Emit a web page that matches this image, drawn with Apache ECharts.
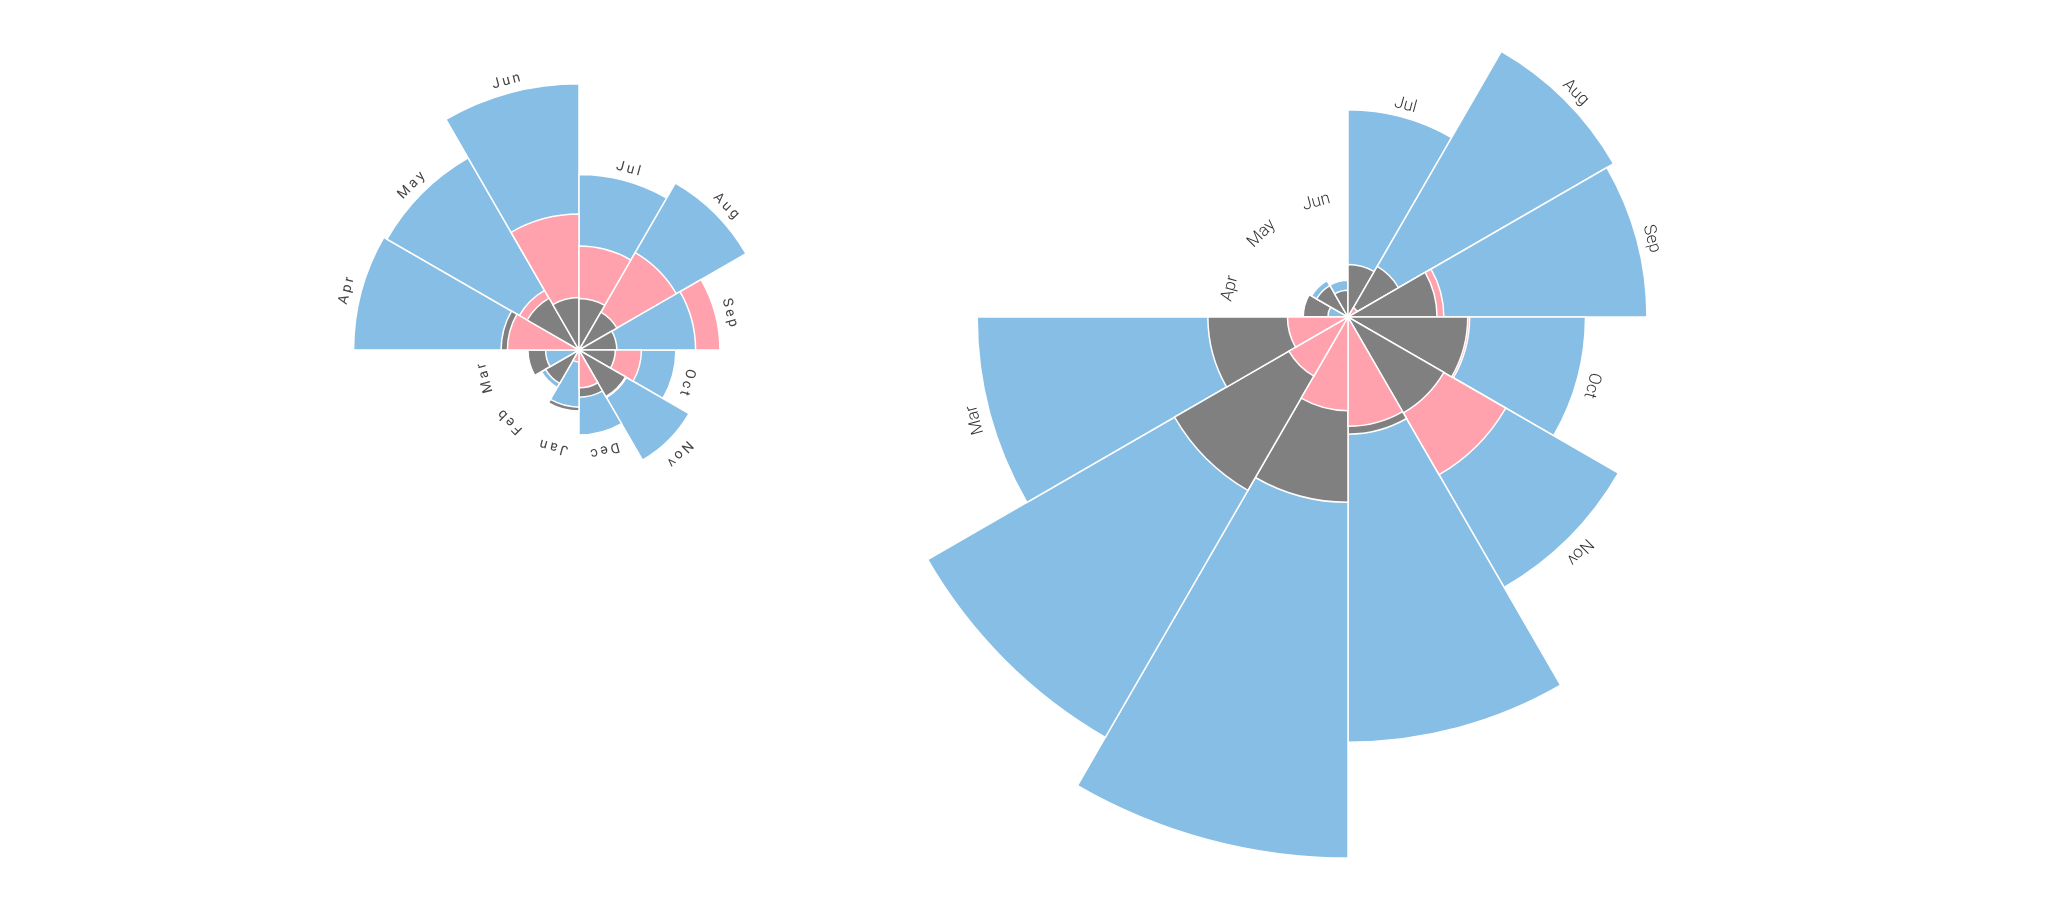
<!DOCTYPE html>
<html>
<head>
<meta charset="utf-8">
<script src="https://cdn.jsdelivr.net/npm/echarts@6/dist/echarts.min.js"></script>
<style>
  html, body { margin: 0; padding: 0; background: #fff; }
  #chart { width: 2048px; height: 897px; }
</style>
</head>
<body>
<div id="chart"></div>
<script>
const months = ['Apr', 'May', 'Jun', 'Jul', 'Aug', 'Sep', 'Oct', 'Nov', 'Dec', 'Jan', 'Feb', 'Mar']

// left rose: April 1855 - March 1856 (annual rate per 1000)
const disease1855 = [177.5, 171.8, 247.6, 107.5, 129.9, 47.5, 32.8, 56.4, 25.3, 11.4, 6.6, 3.9]
const wounds1855 = [17.9, 16.6, 64.5, 37.7, 44.1, 69.4, 13.6, 10.5, 5.0, 0.5, 0.0, 0.0]
const other1855 = [21.2, 12.5, 9.6, 9.3, 6.7, 5.0, 4.6, 10.1, 7.8, 13.0, 5.2, 9.1]

// right rose: April 1854 - March 1855
const disease1854 = [1.4, 6.2, 4.7, 150.0, 328.5, 312.2, 197.0, 340.6, 631.5, 1022.8, 822.8, 480.3]
const wounds1854 = [0.0, 0.0, 0.0, 0.0, 0.4, 32.1, 51.7, 115.8, 41.7, 30.7, 16.3, 12.8]
const other1854 = [7.0, 4.6, 2.5, 9.6, 11.9, 27.7, 50.1, 42.8, 48.0, 120.0, 140.1, 68.6]

const COLORS = { disease: '#87bee5', wounds: '#ffa2ad', other: '#808080' }
const RADIUS_MAX = 40 // in sqrt units, area of a wedge ~ value
const PX_PER_UNIT = 16.92
const LABEL_GAP = 15
const LABEL_MAX_R = 420 // labels further out than this fall outside the drawing

const roses = [
  { center: [579, 350], disease: disease1855, wounds: wounds1855, other: other1855,
    minLabelR: 97, font: { fontSize: 14, fontWeight: 400, fill: '#444' }, spaced: true },
  { center: [1348, 317], disease: disease1854, wounds: wounds1854, other: other1854,
    minLabelR: 122, font: { fontSize: 17, fontWeight: 300, fill: '#333' }, spaced: false }
]

// biggest wedge of each month first, so the smaller ones stay visible on top
function layers(rose) {
  const out = [[], [], []]
  months.forEach((m, i) => {
    const items = [
      { v: rose.disease[i], c: COLORS.disease },
      { v: rose.wounds[i], c: COLORS.wounds },
      { v: rose.other[i], c: COLORS.other }
    ].sort((a, b) => b.v - a.v)
    items.forEach((it, k) => {
      out[k].push({ value: Math.sqrt(it.v), itemStyle: { color: it.c } })
    })
  })
  return out
}

const chart = echarts.init(document.getElementById('chart'), null, { renderer: 'canvas' })

const polar = []
const angleAxis = []
const radiusAxis = []
const series = []

roses.forEach((rose, p) => {
  polar.push({ center: rose.center, radius: [0, RADIUS_MAX * PX_PER_UNIT] })
  angleAxis.push({
    polarIndex: p,
    type: 'category',
    data: months,
    startAngle: 180,
    clockwise: true,
    axisLine: { show: false },
    axisTick: { show: false },
    axisLabel: { show: false },
    splitLine: { show: false }
  })
  radiusAxis.push({
    polarIndex: p,
    type: 'value',
    min: 0,
    max: RADIUS_MAX,
    axisLine: { show: false },
    axisTick: { show: false },
    axisLabel: { show: false },
    splitLine: { show: false }
  })

  layers(rose).forEach(data => {
    series.push({
      type: 'bar',
      coordinateSystem: 'polar',
      polarIndex: p,
      barGap: '-100%',
      barCategoryGap: '0%',
      silent: true,
      itemStyle: { borderColor: '#fff', borderWidth: 1.5 },
      data: data
    })
  })

  const labelData = months.map((m, i) =>
    [Math.sqrt(Math.max(rose.disease[i], rose.wounds[i], rose.other[i])), i])

  series.push({
    type: 'custom',
    coordinateSystem: 'polar',
    polarIndex: p,
    silent: true,
    z: 10,
    data: labelData,
    renderItem: (params, api) => {
      const pt = api.coord([api.value(0), api.value(1)])
      const cs = params.coordSys
      const dx = pt[0] - cs.cx
      const dy = cs.cy - pt[1]
      const theta = Math.atan2(dy, dx)
      const r = Math.max(Math.sqrt(dx * dx + dy * dy), rose.minLabelR - LABEL_GAP) + LABEL_GAP
      if (r > LABEL_MAX_R) return null
      const name = months[params.dataIndex]
      return {
        type: 'text',
        x: cs.cx + r * Math.cos(theta),
        y: cs.cy - r * Math.sin(theta) + 3,
        rotation: theta - Math.PI / 2,
        style: {
          text: rose.spaced ? name.split('').join('\u2009') : name,
          fontFamily: 'Roboto, "Open Sans", sans-serif',
          fontSize: rose.font.fontSize,
          fontWeight: rose.font.fontWeight,
          fill: rose.font.fill,
          align: 'center',
          verticalAlign: 'middle'
        }
      }
    }
  })
})

chart.setOption({
  backgroundColor: '#fff',
  animation: false,
  polar: polar,
  angleAxis: angleAxis,
  radiusAxis: radiusAxis,
  series: series
})
</script>
</body>
</html>
